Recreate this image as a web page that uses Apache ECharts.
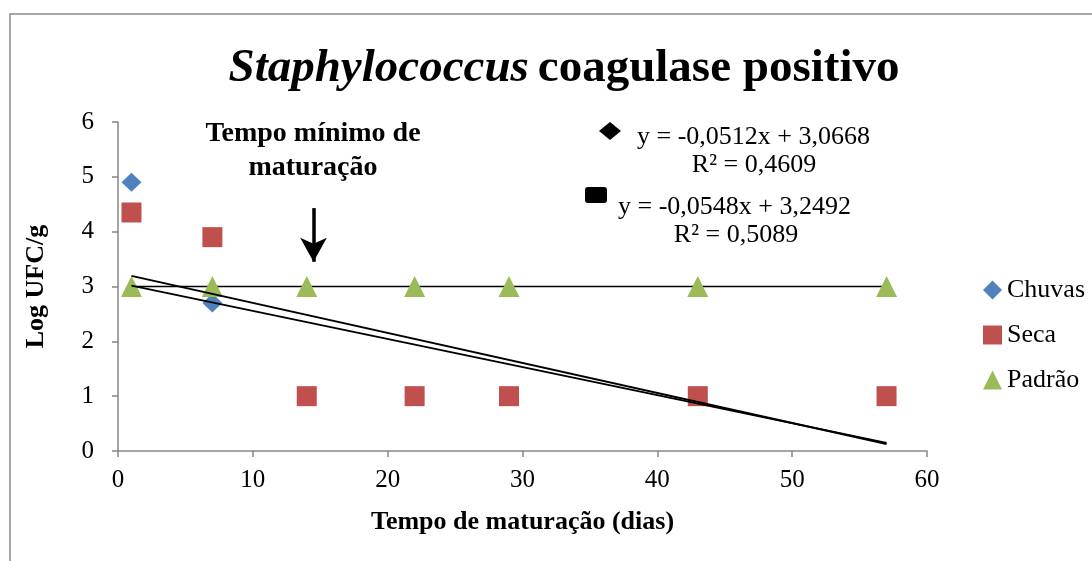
<!DOCTYPE html>
<html>
<head>
<meta charset="utf-8">
<script src="https://cdn.jsdelivr.net/npm/echarts@6/dist/echarts.min.js"></script>
<style>
  html, body { margin: 0; padding: 0; background: #fff; }
  #main { width: 1092px; height: 561px; }
</style>
</head>
<body>
<div id="main"></div>
<script>
// dias de maturação
const dias = [1, 7, 14, 22, 29, 43, 57];
// Log UFC/g
const chuvas = [4.9, 2.7, 1, 1, 1, 1, 1];
const seca = [4.35, 3.9, 1, 1, 1, 1, 1];
const padrao = [3, 3, 3, 3, 3, 3, 3];
// linhas de tendência (extremos)
const trendX = [1, 57];
const trendChuvas = [3.016, 0.148];
const trendSeca = [3.194, 0.126];
// seta "tempo mínimo"
const arrowX = 14.5;
const arrowY = [4.43, 3.45];

const font = '"Liberation Serif", "Times New Roman", serif';
const pair = (xs, ys) => xs.map((x, i) => [x, ys[i]]);

window.onload = function () {
  const chartDom = document.getElementById('main');
  const myChart = echarts.init(chartDom);

  const option = {
    animation: false,
    textStyle: { fontFamily: font, color: '#000' },
    title: {
      text: '{i|Staphylococcus}  {b|coagulase positivo}',
      left: 559,
      textAlign: 'center',
      top: 40,
      textStyle: {
        rich: {
          i: { fontFamily: font, fontStyle: 'italic', fontWeight: 'bold', fontSize: 47, color: '#000' },
          b: { fontFamily: font, fontWeight: 'bold', fontSize: 47, color: '#000' }
        }
      }
    },
    grid: { left: 118, right: 165, top: 122, bottom: 110 },
    legend: {
      orient: 'vertical',
      left: 978,
      top: 272,
      itemGap: 19,
      itemWidth: 19,
      itemHeight: 19,
      itemTextGap: 4,
      textStyle: { fontFamily: font, fontSize: 26, lineHeight: 26, color: '#000' },
      data: [
        { name: 'Chuvas', icon: 'diamond' },
        { name: 'Seca', icon: 'rect' },
        { name: 'Padrão', icon: 'triangle' }
      ]
    },
    xAxis: {
      type: 'value',
      min: 0, max: 60, interval: 10,
      name: 'Tempo de maturação (dias)',
      nameLocation: 'middle',
      nameGap: 58,
      nameTextStyle: { fontFamily: font, fontWeight: 'bold', fontSize: 26, color: '#000' },
      axisLine: { lineStyle: { color: '#868686', width: 1.5 } },
      axisTick: { lineStyle: { color: '#868686', width: 1.5 }, length: 6 },
      axisLabel: { fontFamily: font, fontSize: 25, color: '#000', margin: 17 },
      splitLine: { show: false }
    },
    yAxis: {
      type: 'value',
      min: 0, max: 6, interval: 1,
      name: 'Log UFC/g',
      nameLocation: 'middle',
      nameGap: 69,
      nameTextStyle: { fontFamily: font, fontWeight: 'bold', fontSize: 26, color: '#000' },
      axisLine: { show: true, lineStyle: { color: '#868686', width: 1.5 } },
      axisTick: { show: true, lineStyle: { color: '#868686', width: 1.5 }, length: 6 },
      axisLabel: { fontFamily: font, fontSize: 25, color: '#000', margin: 24 },
      splitLine: { show: false }
    },
    series: [
      {
        name: 'Chuvas', type: 'scatter', symbol: 'diamond', symbolSize: [20, 19],
        itemStyle: { color: '#4F81BD', opacity: 1 },
        data: pair(dias, chuvas), z: 2
      },
      {
        name: 'Seca', type: 'scatter', symbol: 'rect', symbolSize: 20,
        itemStyle: { color: '#C0504D', opacity: 1 },
        data: pair(dias, seca), z: 3
      },
      {
        name: 'Padrão', type: 'line', symbol: 'triangle', symbolSize: 21,
        itemStyle: { color: '#9BBB59', opacity: 1 },
        lineStyle: { color: '#000', width: 1.5 },
        data: pair(dias, padrao), z: 4
      },
      {
        name: 'tend-chuvas', type: 'line', symbol: 'none',
        lineStyle: { color: '#000', width: 2 },
        data: pair(trendX, trendChuvas), z: 5, silent: true
      },
      {
        name: 'tend-seca', type: 'line', symbol: 'none',
        lineStyle: { color: '#000', width: 2 },
        data: pair(trendX, trendSeca), z: 5, silent: true,
        markLine: {
          silent: true,
          symbol: ['none', 'arrow'],
          symbolSize: [20, 24],
          label: { show: false },
          lineStyle: { color: '#000', width: 3.5, type: 'solid' },
          data: [[{ coord: [arrowX, arrowY[0]] }, { coord: [arrowX, arrowY[1]] }]]
        }
      }
    ],
    graphic: [
      {
        type: 'rect', z: -1,
        shape: { x: 10, y: 14, width: 1100, height: 600 },
        style: { fill: 'none', stroke: '#8a8a8a', lineWidth: 1.5 }
      },
      {
        type: 'text', x: 313, y: 151,
        style: {
          text: 'Tempo mínimo de\nmaturação', align: 'center', verticalAlign: 'middle',
          font: 'bold 28px ' + font, fill: '#000', lineHeight: 34
        }
      },
      {
        type: 'polygon',
        shape: { points: [[610, 122], [621, 131], [610, 140], [599, 131]] },
        style: { fill: '#000' }
      },
      {
        type: 'text', x: 637, y: 137,
        style: { text: 'y = -0,0512x + 3,0668', verticalAlign: 'middle', font: '26px ' + font, fill: '#000' }
      },
      {
        type: 'text', x: 754, y: 165,
        style: { text: 'R² = 0,4609', align: 'center', verticalAlign: 'middle', font: '26px ' + font, fill: '#000' }
      },
      {
        type: 'rect',
        shape: { x: 585, y: 187, width: 22, height: 16, r: 3 },
        style: { fill: '#000' }
      },
      {
        type: 'text', x: 618, y: 207,
        style: { text: 'y = -0,0548x + 3,2492', verticalAlign: 'middle', font: '26px ' + font, fill: '#000' }
      },
      {
        type: 'text', x: 736, y: 235,
        style: { text: 'R² = 0,5089', align: 'center', verticalAlign: 'middle', font: '26px ' + font, fill: '#000' }
      }
    ]
  };

  myChart.setOption(option);
};
</script>
</body>
</html>
